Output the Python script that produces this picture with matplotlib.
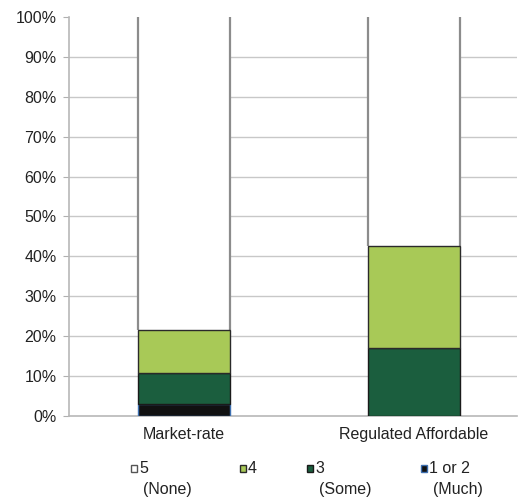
import matplotlib
matplotlib.use("Agg")
import matplotlib.pyplot as plt
from matplotlib.patches import Rectangle
import numpy as np

plt.rcParams['font.family'] = ['Liberation Sans', 'DejaVu Sans']

categories = ["Market-rate", "Regulated Affordable"]
levels = ["1 or 2", "3", "4", "5"]
legend_labels = {"5": "5", "4": "4", "3": "3", "1 or 2": "1 or 2"}
legend_sub = {"5": "(None)", "4": "", "3": "(Some)", "1 or 2": "(Much)"}
values = {
    "1 or 2": [3.0, 0.0],
    "3": [7.7, 17.0],
    "4": [10.9, 25.7],
    "5": [78.4, 57.3],
}
colors = {"1 or 2": "#111111", "3": "#1b5e3e", "4": "#a8c957", "5": "#ffffff"}
edges = {"1 or 2": "#3d6fb0", "3": "#1a1a1a", "4": "#2a2a2a", "5": "#8c8c8c"}

W, H = 519, 500
FS = 11.5
fig = plt.figure(figsize=(W / 100, H / 100), dpi=100)
ax_l, ax_r, ax_t, ax_b = 69, 517, 17, 416
ax = fig.add_axes([ax_l / W, 1 - ax_b / H, (ax_r - ax_l) / W, (ax_b - ax_t) / H])

x = np.arange(len(categories))
bottom = np.zeros(len(categories))
for lv in levels:
    v = np.array(values[lv])
    if lv == "5":
        bars = ax.bar(x, v, width=0.4, bottom=bottom, color=colors[lv],
                      edgecolor="none", zorder=3)
        # only the side edges are outlined for the top segment
        for b in bars:
            x0, x1 = b.get_x(), b.get_x() + b.get_width()
            y0, y1 = b.get_y(), b.get_y() + b.get_height()
            ax.vlines([x0, x1], y0, y1, color=edges[lv], linewidth=1.6, zorder=4)
    else:
        ax.bar(x, v, width=0.4, bottom=bottom, color=colors[lv], edgecolor=edges[lv],
               linewidth=1.0, zorder=5)
    bottom += v

ax.set_ylim(0, 100)
ax.set_xlim(-0.5, -0.5 + (ax_r - ax_l) / 230)
ax.set_yticks(np.arange(0, 101, 10))
ax.set_yticklabels([f"{t}%" for t in range(0, 101, 10)], fontsize=FS, color="#222222")
for t in range(10, 100, 10):
    ax.axhline(t, color="#c8c8c8", linewidth=1.0, zorder=0)
ax.tick_params(axis="y", length=4, color="#b0b0b0", pad=5)
ax.tick_params(axis="x", length=0, pad=8)
ax.set_xticks(x)
ax.set_xticklabels(categories, fontsize=FS, color="#222222")
for s in ["top", "right"]:
    ax.spines[s].set_visible(False)
ax.spines["left"].set_color("#b8b8b8")
ax.spines["bottom"].set_color("#b8b8b8")
ax.spines["left"].set_linewidth(1.2)
ax.spines["bottom"].set_linewidth(1.2)

# legend along the bottom
legend_pos = {"5": 131, "4": 240, "3": 307, "1 or 2": 421}
for lv in ["5", "4", "3", "1 or 2"]:
    px = legend_pos[lv]
    fig.patches.append(Rectangle((px / W, 1 - 472 / H), 6 / W, 7 / H,
                                 transform=fig.transFigure, facecolor=colors[lv],
                                 edgecolor=edges[lv] if lv != "5" else "#555555",
                                 linewidth=1.0))
    fig.text((px + 8) / W, 1 - 473 / H, legend_labels[lv], fontsize=FS,
             color="#222222", ha="left", va="baseline")
    if legend_sub[lv]:
        fig.text((px + 12) / W, 1 - 494 / H, legend_sub[lv], fontsize=FS,
                 color="#222222", ha="left", va="baseline")

fig.savefig("out.png", dpi=100)
